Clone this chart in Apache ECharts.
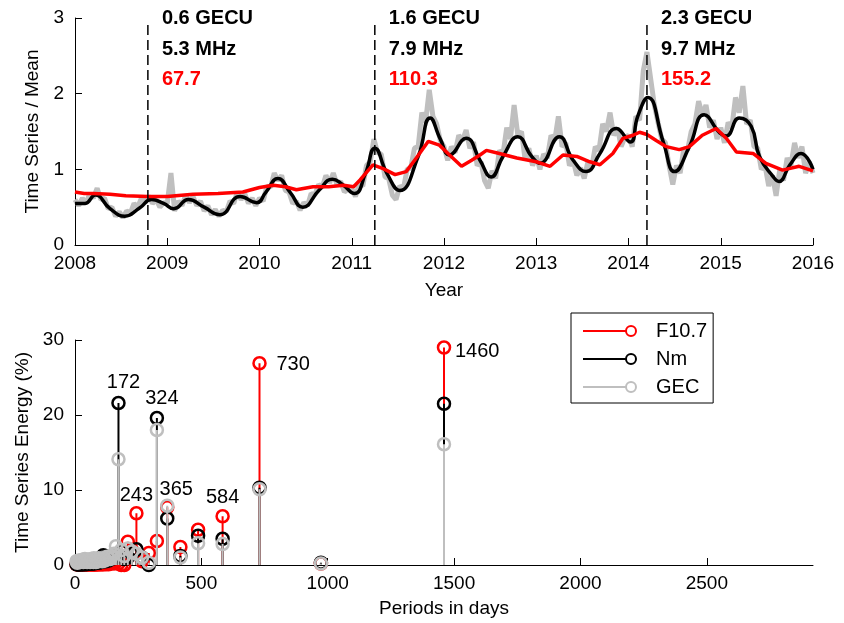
<!DOCTYPE html>
<html><head><meta charset="utf-8">
<script src="https://cdn.jsdelivr.net/npm/echarts@6/dist/echarts.min.js"></script>
<style>html,body{margin:0;padding:0;background:#fff}#c{width:844px;height:623px}</style>
</head><body><div id="c"></div>
<script>
// ---------- DATA ----------
const yearTicks = [2008, 2009, 2010, 2011, 2012, 2013, 2014, 2015, 2016];
const ratioTicks = [0, 1, 2, 3];
const periodTicks = [0, 500, 1000, 1500, 2000, 2500];
const energyTicks = [0, 10, 20, 30];
const periodMax = 2920;

// gray: GEC / mean, sampled every 0.04 yr from 2008.00
const gecStart = 2008.0, gecStep = 0.04;
const gecDaily = [
  0.60,0.52,0.62,0.55,0.68,0.62,0.75,0.60,0.62,0.48,0.50,0.38,0.44,0.36,0.45,0.42,0.55,0.50,0.62,0.56,0.65,0.55,0.60,0.50,0.56,
  0.55,0.95,0.45,0.58,0.52,0.66,0.56,0.64,0.52,0.58,0.45,0.52,0.40,0.47,0.38,0.46,0.44,0.58,0.55,0.70,0.60,0.68,0.55,0.62,0.52,
  0.62,0.58,0.78,0.76,0.95,0.85,0.92,0.72,0.70,0.55,0.58,0.46,0.56,0.52,0.68,0.66,0.80,0.76,0.92,0.82,0.95,0.80,0.84,0.70,0.74,
  0.75,0.64,0.80,0.78,1.05,1.10,1.40,1.22,1.20,0.90,0.88,0.66,0.60,0.78,0.74,1.00,1.02,1.28,1.30,1.75,1.62,2.05,1.70,1.60,1.38,
  1.30,1.12,1.30,1.22,1.45,1.38,1.52,1.28,1.36,1.05,1.10,0.85,0.75,0.98,0.88,1.25,1.20,1.55,1.40,1.85,1.45,1.50,1.12,1.28,1.05,
  1.18,1.00,1.20,1.15,1.45,1.38,1.70,1.30,1.35,1.05,1.12,0.92,1.02,0.88,1.10,1.02,1.30,1.25,1.60,1.50,1.75,1.45,1.55,1.30,1.42,
  1.45,1.30,1.70,1.65,2.30,2.55,2.20,1.85,1.62,1.40,1.35,1.05,0.80,1.05,0.95,1.28,1.25,1.50,1.60,1.90,1.72,1.85,1.55,1.65,1.40,
  1.55,1.35,1.62,1.55,1.95,1.75,2.10,1.60,1.65,1.30,1.28,1.00,1.05,0.78,0.92,0.65,1.00,0.85,1.15,1.05,1.35,1.15,1.30,0.95,1.10,
  0.95
];
// black: smoothed Nm / mean
const nmSmooth = [
  [2008.00,0.55],[2008.11,0.55],[2008.22,0.66],[2008.38,0.48],[2008.54,0.38],[2008.70,0.49],[2008.83,0.60],[2008.96,0.55],
  [2009.07,0.48],[2009.23,0.60],[2009.40,0.50],[2009.57,0.40],[2009.79,0.64],[2009.97,0.56],[2010.07,0.70],[2010.20,0.88],
  [2010.33,0.70],[2010.47,0.50],[2010.65,0.73],[2010.79,0.87],[2010.90,0.80],[2011.03,0.68],[2011.15,0.95],[2011.25,1.28],
  [2011.38,0.95],[2011.52,0.72],[2011.72,1.17],[2011.85,1.68],[2011.96,1.40],[2012.06,1.19],[2012.24,1.41],[2012.39,1.12],
  [2012.51,0.90],[2012.64,1.17],[2012.80,1.43],[2012.95,1.17],[2013.04,1.08],[2013.25,1.43],[2013.40,1.12],[2013.54,0.97],
  [2013.69,1.21],[2013.87,1.54],[2014.02,1.36],[2014.10,1.70],[2014.21,1.95],[2014.38,1.35],[2014.50,0.97],[2014.66,1.30],
  [2014.82,1.72],[2014.99,1.48],[2015.06,1.44],[2015.20,1.68],[2015.33,1.57],[2015.42,1.17],[2015.57,0.90],[2015.63,0.84],
  [2015.75,1.06],[2015.87,1.21],[2016.00,1.00]
];
// red: F10.7 / mean
const f107Smooth = [
  [2008.00,0.70],[2008.10,0.68],[2008.20,0.68],[2008.38,0.67],[2008.55,0.65],[2008.79,0.64],[2009.00,0.64],[2009.28,0.67],
  [2009.55,0.68],[2009.82,0.70],[2010.00,0.76],[2010.15,0.79],[2010.28,0.77],[2010.40,0.73],[2010.58,0.77],[2010.75,0.77],
  [2010.91,0.79],[2011.02,0.77],[2011.09,0.86],[2011.23,1.06],[2011.34,1.01],[2011.47,0.93],[2011.59,0.97],[2011.70,1.15],
  [2011.83,1.37],[2011.95,1.32],[2012.06,1.19],[2012.19,1.04],[2012.30,1.12],[2012.39,1.19],[2012.46,1.25],[2012.60,1.21],
  [2012.79,1.15],[2013.00,1.10],[2013.15,1.04],[2013.29,1.19],[2013.44,1.17],[2013.58,1.10],[2013.69,1.06],[2013.83,1.21],
  [2013.94,1.41],[2014.05,1.45],[2014.12,1.49],[2014.20,1.46],[2014.30,1.38],[2014.41,1.30],[2014.55,1.26],[2014.66,1.30],
  [2014.80,1.45],[2014.95,1.54],[2015.06,1.41],[2015.17,1.23],[2015.35,1.21],[2015.49,1.08],[2015.67,0.99],[2015.85,1.04],
  [2016.00,0.98]
];
// annotations
const markYears = [2008.79, 2011.25, 2014.20];
const gecuLabels = ['0.6 GECU', '1.6 GECU', '2.3 GECU'];
const mhzLabels = ['5.3 MHz', '7.9 MHz', '9.7 MHz'];
const f107Labels = ['67.7', '110.3', '155.2'];

// bottom: spectral energy
const periods = [1460,973,730,584,487,417,365,324,292,265,243,225,209,195,183,172,
  162,154,146,139,133,127,122,117,112,108,104,101,97,94,91,88,86,83,81,79,77,75,73,71,69,66,63,60,57,54,51,48,45,42,39,36,33,30,27,24,21,18,15,12,9,6];
const energyF107 = [29.0,0.2,26.9,6.5,4.7,2.4,7.7,3.2,1.6,0.5,6.9,2.0,3.1,0.0,0.0,0.2,
  0.4,0.2,0.3,0.2,0.1,0.2,0.1,0.2,0.1,0.1, 0.2,0.1,0.1,0.2,0.1,0.1,0.1,0.2,0.1,0.1, 0.1,0.1,0.2,0.1,0.1,0.1,0.1,0.1,0.1,0.1,
  0.1,0.1,0.1,0.1,0.1,0.1,0.1,0.1,0.1,0.1, 0.1,0.1,0.1,0.1,0.1,0.1];
const energyNm = [21.5,0.3,10.3,3.5,3.9,1.2,6.2,19.6,0.0,1.0,2.1,1.5,1.0,0.8,1.8,21.6,
  1.2,0.9,1.1,0.8,0.6,0.9,0.5,1.0,1.3,0.6,0.4,0.5,0.7,0.3,0.6,0.4,0.5,0.3,0.4,0.6,0.3,0.2,0.4,0.3,0.2,0.3,0.2,0.3,0.2,0.2,
  0.3,0.2,0.1,0.2,0.2,0.1,0.2,0.1,0.1,0.2,0.1,0.1,0.1,0.1,0.1,0.1];
const energyGEC = [16.1,0.2,10.1,2.8,2.9,1.0,7.9,18.0,0.3,1.0,1.5,1.8,2.2,1.2,2.0,14.1,
  2.5,1.5,1.2,0.8,0.9,1.1,0.7,0.6,0.9,0.5,0.8,0.6,0.7,0.9,0.5,0.6,0.8,0.4,0.7,0.5,0.6,0.9,0.4,0.6,0.7,0.5,0.8,0.4,0.6,0.5,
  0.7,0.4,0.6,0.5,0.8,0.5,0.4,0.7,0.5,0.6,0.4,0.5,0.6,0.4,0.3,0.5];
const peakLabels = ['172', '324', '243', '365', '584', '730', '1460'];
const seriesNames = ['F10.7', 'Nm', 'GEC'];

// ---------- STYLE ----------
const FONT = 'Liberation Sans';
const RED = '#ff0000', BLACK = '#000000', GRAY = '#bfbfbf';
const labelStyle = [ // dx, dy, align
  [5,-21,'center'],[5,-20,'center'],[0,-18,'center'],[9,-16,'center'],[0,-19,'center'],[17,1,'left'],[11,4,'left']
];

// ---------- BUILD ----------
const gecSeriesData = gecDaily.map((v, i) => [gecStart + i * gecStep, v]);
const stemData = [energyF107, energyNm, energyGEC].map(arr => periods.map((p, i) => [p, arr[i]]));
const peakData = peakLabels.map(t => {
  const p = Number(t), i = periods.indexOf(p);
  return [p, Math.max(energyF107[i], energyNm[i], energyGEC[i])];
});

function axisCommon(extra) {
  return Object.assign({
    type: 'value',
    axisLine: { show: true, onZero: false, lineStyle: { color: '#000', width: 1 } },
    axisTick: { show: true, inside: true, length: 7, lineStyle: { color: '#000', width: 1 } },
    splitLine: { show: false },
    axisLabel: { color: '#000', fontSize: 19, fontFamily: FONT },
    nameTextStyle: { color: '#000', fontSize: 19, fontFamily: FONT },
    nameLocation: 'middle'
  }, extra);
}

function stemRender(color) {
  return function (params, api) {
    const x = api.value(0), y = api.value(1);
    const p0 = api.coord([x, 0]), p1 = api.coord([x, y]);
    return { type: 'group', children: [
      { type: 'line', shape: { x1: p0[0], y1: p0[1], x2: p1[0], y2: p1[1] }, style: { stroke: color, lineWidth: 2 } },
      { type: 'circle', shape: { cx: p1[0], cy: p1[1], r: 6 }, style: { stroke: color, fill: 'none', lineWidth: 2.5 } }
    ]};
  };
}
function txt(x, y, text, color, font, align) {
  return { type: 'text', x: x, y: y, style: { text: text, fill: color, textFill: color, font: font,
    align: align, textAlign: align, verticalAlign: 'middle', textVerticalAlign: 'middle' } };
}

const ringIcon = 'path://M0,5 L43,5 L43,7 L0,7 Z M48,0 A6,6 0 1,1 48,12 A6,6 0 1,1 48,0 Z M48,2 A4,4 0 1,0 48,10 A4,4 0 1,0 48,2 Z M68,6 L68,6.01 Z';

const option = {
  animation: false,
  backgroundColor: '#fff',
  grid: [
    { left: 75, right: 31, top: 18, height: 227 },
    { left: 75, right: 31, top: 340, height: 225 }
  ],
  xAxis: [
    axisCommon({ gridIndex: 0, min: yearTicks[0], max: yearTicks[yearTicks.length - 1], interval: 1,
      name: 'Year', nameGap: 36,
      axisLabel: { color: '#000', fontSize: 19, fontFamily: FONT, margin: 9, formatter: v => String(v) } }),
    axisCommon({ gridIndex: 1, min: 0, max: periodMax, interval: 500,
      name: 'Periods in days', nameGap: 34,
      axisTick: { show: true, inside: true, length: 7, lineStyle: { color: '#000' }, customValues: periodTicks },
      axisLabel: { color: '#000', fontSize: 19, fontFamily: FONT, margin: 9, customValues: periodTicks, formatter: v => String(v) } })
  ],
  yAxis: [
    axisCommon({ gridIndex: 0, min: ratioTicks[0], max: ratioTicks[ratioTicks.length - 1], interval: 1,
      name: 'Time Series / Mean', nameGap: 33,
      axisLabel: { color: '#000', fontSize: 19, fontFamily: FONT, margin: 11 } }),
    axisCommon({ gridIndex: 1, min: energyTicks[0], max: energyTicks[energyTicks.length - 1], interval: 10,
      name: 'Time Series Energy (%)', nameGap: 33,
      axisLabel: { color: '#000', fontSize: 19, fontFamily: FONT, margin: 11 } })
  ],
  legend: {
    orient: 'vertical', left: 571, top: 313,
    itemWidth: 68, itemHeight: 12, itemGap: 8,
    padding: [8, 6, 6, 12],
    borderColor: '#000', borderWidth: 1, backgroundColor: '#fff',
    textStyle: { fontSize: 20, fontFamily: FONT, color: '#000', lineHeight: 20 },
    data: seriesNames.map(n => ({ name: n, icon: ringIcon }))
  },
  series: [
    { type: 'line', xAxisIndex: 0, yAxisIndex: 0, data: gecSeriesData, showSymbol: false,
      lineStyle: { color: GRAY, width: 5 }, itemStyle: { color: GRAY }, z: 2 },
    { type: 'line', xAxisIndex: 0, yAxisIndex: 0, data: nmSmooth, showSymbol: false, smooth: 0.5,
      lineStyle: { color: BLACK, width: 3.5 }, itemStyle: { color: BLACK }, z: 3 },
    { type: 'line', xAxisIndex: 0, yAxisIndex: 0, data: f107Smooth, showSymbol: false,
      lineStyle: { color: RED, width: 3.5 }, itemStyle: { color: RED }, z: 4 },
    { type: 'custom', xAxisIndex: 0, yAxisIndex: 0, z: 5,
      data: markYears.map(y => [y, ratioTicks[ratioTicks.length - 1]]),
      renderItem: (params, api) => {
        const i = params.dataIndex, x = api.value(0);
        const top = api.coord([x, api.value(1)]), bot = api.coord([x, 0]);
        const f = 'bold 20px "' + FONT + '"';
        return { type: 'group', children: [
          { type: 'line', shape: { x1: bot[0], y1: bot[1], x2: top[0], y2: top[1] + 2 },
            style: { stroke: '#000', lineWidth: 1.5, lineDash: [10, 5] } },
          txt(top[0] + 14, top[1], gecuLabels[i], '#000', f, 'left'),
          txt(top[0] + 14, top[1] + 31, mhzLabels[i], '#000', f, 'left'),
          txt(top[0] + 14, top[1] + 61, f107Labels[i], RED, f, 'left')
        ]};
      } },
    { type: 'custom', name: seriesNames[0], xAxisIndex: 1, yAxisIndex: 1, data: stemData[0],
      itemStyle: { color: RED }, renderItem: stemRender(RED), z: 3 },
    { type: 'custom', name: seriesNames[1], xAxisIndex: 1, yAxisIndex: 1, data: stemData[1],
      itemStyle: { color: BLACK }, renderItem: stemRender(BLACK), z: 3 },
    { type: 'custom', name: seriesNames[2], xAxisIndex: 1, yAxisIndex: 1, data: stemData[2],
      itemStyle: { color: GRAY }, renderItem: stemRender(GRAY), z: 3 },
    { type: 'custom', xAxisIndex: 1, yAxisIndex: 1, data: peakData, z: 6,
      renderItem: (params, api) => {
        const i = params.dataIndex, s = labelStyle[i];
        const p = api.coord([api.value(0), api.value(1)]);
        return txt(p[0] + s[0], p[1] + s[1], peakLabels[i], '#000', '20px "' + FONT + '"', s[2]);
      } }
  ]
};
const chart = echarts.init(document.getElementById('c'), null, { renderer: 'canvas' });
chart.setOption(option);
</script>
</body></html>
